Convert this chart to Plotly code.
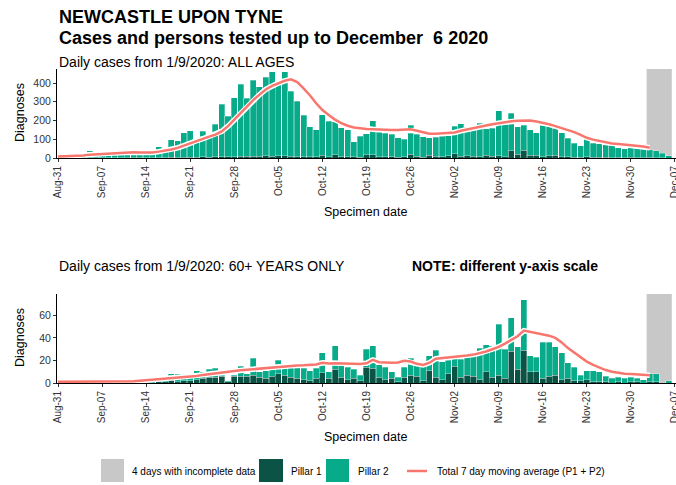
import pandas as pd
import plotly.graph_objects as go

# specimen dates (bars) and dates the 7 day average is drawn for
days = pd.date_range("2020-09-01", "2020-12-06", freq="D")
ma_days = pd.date_range("2020-08-31", "2020-12-03", freq="D")

# ALL AGES - daily cases by pillar
all_p1 = [0, 1, 0, 1, 2, 1, 1, 2, 1, 1, 2, 1, 1, 2, 1, 2, 2, 3, 2, 4, 5, 4, 6, 5, 7, 8, 6, 8, 10, 9,
          10, 9, 12, 10, 11, 12, 9, 8, 7, 6, 7, 15, 8, 18, 8, 6, 7, 4, 18, 17, 8, 6, 7, 3, 8, 20, 10, 5, 15, 9, 6,
          12, 22, 10, 12, 10, 8, 15, 10, 12, 8, 38, 20, 42, 16, 14, 8, 12, 14, 7, 8, 4, 5, 6, 4, 3, 3, 2, 3, 2, 3,
          2, 1, 3, 2, 1, 0]
all_p2 = [5, 7, 10, 14, 36, 17, 21, 23, 27, 29, 30, 25, 21, 20, 29, 58, 43, 95, 90, 131, 140, 78, 136, 110, 173, 280, 216, 314, 383, 309,
          405, 371, 420, 450, 389, 448, 348, 294, 221, 162, 143, 215, 187, 175, 154, 144, 81, 112, 112, 183, 142, 125, 119, 105, 93, 156, 116, 108, 93, 103, 109,
          106, 148, 173, 153, 160, 177, 140, 148, 241, 172, 200, 147, 134, 134, 121, 167, 158, 146, 128, 97, 76, 60, 95, 76, 72, 69, 66, 52, 48, 55,
          56, 49, 42, 38, 24, 12]
all_ma = [8,
          9, 10, 12, 14, 18, 20, 22, 25, 28, 30, 31, 31, 29, 28, 30, 34, 39, 45, 54, 66, 82, 92, 103, 114, 125, 142, 170, 205, 240, 272,
          309, 338, 366, 385, 400, 412, 420, 405, 372, 335, 292, 256, 229, 205, 186, 172, 163, 158, 155, 153, 151, 150, 149, 149, 151, 153, 145, 136, 130, 130, 131,
          133, 136, 145, 153, 161, 167, 173, 180, 186, 191, 196, 199, 201, 200, 195, 189, 180, 170, 160, 150, 138, 124, 108, 98, 90, 82, 78, 75, 72, 69,
          66, 61, 55]

# 60+ YEARS - daily cases by pillar
old_p1 = [0, 0, 0, 1, 0, 0, 0, 1, 0, 0, 0, 0, 1, 1, 0, 1, 1, 2, 1, 2, 2, 3, 4, 5, 5, 6, 1, 6, 6, 6,
          7, 5, 4, 6, 8, 7, 5, 4, 3, 2, 4, 9, 4, 12, 5, 3, 4, 2, 14, 13, 5, 3, 4, 1, 5, 7, 6, 2, 11, 5, 3,
          8, 15, 5, 7, 6, 3, 10, 5, 7, 4, 28, 12, 29, 10, 10, 4, 6, 7, 3, 4, 2, 2, 3, 1, 1, 1, 0, 1, 0, 1,
          1, 0, 1, 1, 0, 0]
old_p2 = [1, 2, 1, 1, 1, 2, 1, 1, 1, 1, 2, 1, 1, 2, 2, 2, 3, 6, 7, 3, 4, 8, 6, 7, 8, 1, 1, 1, 9, 2,
          15, 5, 7, 6, 12, 6, 9, 10, 10, 9, 9, 18, 6, 21, 11, 11, 8, 5, 16, 20, 11, 11, 6, 4, 9, 15, 10, 13, 13, 24, 16,
          12, 7, 16, 16, 18, 28, 24, 28, 45, 26, 30, 20, 45, 14, 13, 32, 30, 25, 24, 14, 12, 5, 8, 10, 9, 5, 4, 4, 4, 4,
          3, 3, 7, 7, 0, 2]
old_ma = [1.0,
          1.0, 1.1, 1.2, 1.3, 1.4, 1.5, 1.5, 1.5, 1.4, 1.3, 1.3, 1.5, 1.9, 2.4, 2.8, 3.2, 3.6, 4.2, 4.7, 5.0, 5.4, 6.3, 7.2, 8.0, 8.8, 9.4, 9.9, 10.7, 11.3, 11.8,
          12.3, 13.0, 13.4, 13.8, 14.3, 15.0, 15.3, 15.6, 15.8, 16.0, 16.5, 17.9, 17.4, 17.6, 17.5, 17.2, 17.0, 16.8, 17.5, 20.5, 18.5, 18.0, 18.0, 18.2, 19.8, 19.0, 17.0, 16.0, 18.0, 21.5, 22.0,
          22.5, 23.0, 23.8, 24.4, 25.2, 26.5, 28.0, 30.0, 32.0, 35.0, 38.0, 41.5, 46.5, 45.5, 44.5, 43.0, 42.0, 40.0, 36.0, 31.0, 27.0, 23.0, 19.0, 16.0, 13.5, 11.5, 10.0, 9.0, 8.3, 8.0,
          7.6, 7.2, 6.9]

incomplete = ("2020-12-02 12:00", "2020-12-06 12:00")

P1_COL = "#0B5345"
P2_COL = "#07AB8A"
MA_COL = "#F8766D"
GREY = "#C8C8C8"
FONT = "Arial, Liberation Sans, sans-serif"

W, H = 676, 485
L, R, T, B = 57, 0, 69, 102


def fx(px):
    return (px - L) / (W - L - R)


def fy(py):
    return (H - B - py) / (H - T - B)


fig = go.Figure()

for p1, p2, ma, xa, ya in [(all_p1, all_p2, all_ma, "x", "y"), (old_p1, old_p2, old_ma, "x2", "y2")]:
    fig.add_trace(go.Bar(x=days, y=p1, marker=dict(color=P1_COL, line=dict(color="rgba(255,255,255,0.5)", width=0.6)),
                         xaxis=xa, yaxis=ya, showlegend=False))
    fig.add_trace(go.Bar(x=days, y=p2, marker=dict(color=P2_COL, line=dict(color="rgba(255,255,255,0.5)", width=0.6)),
                         xaxis=xa, yaxis=ya, showlegend=False))
    # white halo under the average line
    fig.add_trace(go.Scatter(x=ma_days, y=ma, mode="lines", line=dict(color="white", width=5.5),
                             xaxis=xa, yaxis=ya, showlegend=False, hoverinfo="skip"))
    fig.add_trace(go.Scatter(x=ma_days, y=ma, mode="lines", line=dict(color=MA_COL, width=2.5),
                             xaxis=xa, yaxis=ya, showlegend=False))
    fig.add_shape(type="rect", xref=xa, yref=ya + " domain", x0=incomplete[0], x1=incomplete[1], y0=0, y1=1,
                  fillcolor=GREY, line=dict(width=0), layer="below")

xcommon = dict(type="date", range=["2020-08-30 20:00", "2020-12-07 04:00"], tick0="2020-08-31",
               dtick=7 * 86400000, tickformat="%b-%d", tickangle=-90, showgrid=False, zeroline=False,
               showline=True, linecolor="black", linewidth=1, ticks="outside", ticklen=3, tickcolor="#333",
               automargin=False, ticklabeloverflow="allow", tickfont=dict(family=FONT, size=10, color="#333"))
ycommon = dict(showgrid=False, zeroline=False, showline=True, linecolor="black", linewidth=1, automargin=False,
               ticks="outside", ticklen=3, tickcolor="#333", tickfont=dict(family=FONT, size=10.5, color="#333"))

fig.update_layout(
    width=W, height=H,
    margin=dict(l=L, r=R, t=T, b=B),
    barmode="stack", bargap=0.04,
    plot_bgcolor="white", paper_bgcolor="white",
    xaxis=dict(anchor="y", **xcommon),
    xaxis2=dict(anchor="y2", **xcommon),
    yaxis=dict(domain=[fy(158), 1.0], range=[0, 475], tickvals=[0, 100, 200, 300, 400], anchor="x", **ycommon),
    yaxis2=dict(domain=[0, fy(294)], range=[0, 79], tickvals=[0, 20, 40, 60], anchor="x2", **ycommon),
)

ann = [
    dict(text="<b>NEWCASTLE UPON TYNE</b>", x=fx(57), y=fy(17), size=18),
    dict(text="<b>Cases and persons tested up to December\u00a0 6 2020</b>", x=fx(57), y=fy(38), size=18),
    dict(text="Daily cases from 1/9/2020: ALL AGES", x=fx(57), y=fy(62), size=14),
    dict(text="Daily cases from 1/9/2020: 60+ YEARS ONLY", x=fx(57), y=fy(266), size=14),
    dict(text="<b>NOTE: different y-axis scale</b>", x=fx(410), y=fy(266), size=14),
    dict(text="4 days with incomplete data", x=fx(130), y=fy(471), size=10),
    dict(text="Pillar 1", x=fx(289), y=fy(471), size=10),
    dict(text="Pillar 2", x=fx(356), y=fy(471), size=10),
    dict(text="Total 7 day moving average (P1 + P2)", x=fx(435), y=fy(471), size=10),
]
for a in ann:
    fig.add_annotation(text=a["text"], x=a["x"], y=a["y"], xref="paper", yref="paper", showarrow=False,
                       xanchor="left", yanchor="middle", font=dict(family=FONT, size=a["size"], color="black"))

for yc in (113, 338):
    fig.add_annotation(text="Diagnoses", x=fx(20), y=fy(yc), xref="paper", yref="paper", showarrow=False,
                       textangle=-90, xanchor="center", yanchor="middle", font=dict(family=FONT, size=12.5, color="black"))
for yc in (212, 437):
    fig.add_annotation(text="Specimen date", x=fx(365), y=fy(yc), xref="paper", yref="paper", showarrow=False,
                       xanchor="center", yanchor="middle", font=dict(family=FONT, size=12.5, color="black"))

# legend keys
for x0, x1, col in [(101, 124, GREY), (259, 283, P1_COL), (326, 349, P2_COL)]:
    fig.add_shape(type="rect", xref="paper", yref="paper", x0=fx(x0), x1=fx(x1), y0=fy(482), y1=fy(459),
                  fillcolor=col, line=dict(width=0))
fig.add_shape(type="line", xref="paper", yref="paper", x0=fx(407), x1=fx(427), y0=fy(471), y1=fy(471),
              line=dict(color=MA_COL, width=2.5))

# drop the page's default body margin so the figure sits at the window's corner
fig.write_html("out.html", config={"displayModeBar": False},
               post_script="document.body.style.margin='0';document.body.style.overflow='hidden';")
